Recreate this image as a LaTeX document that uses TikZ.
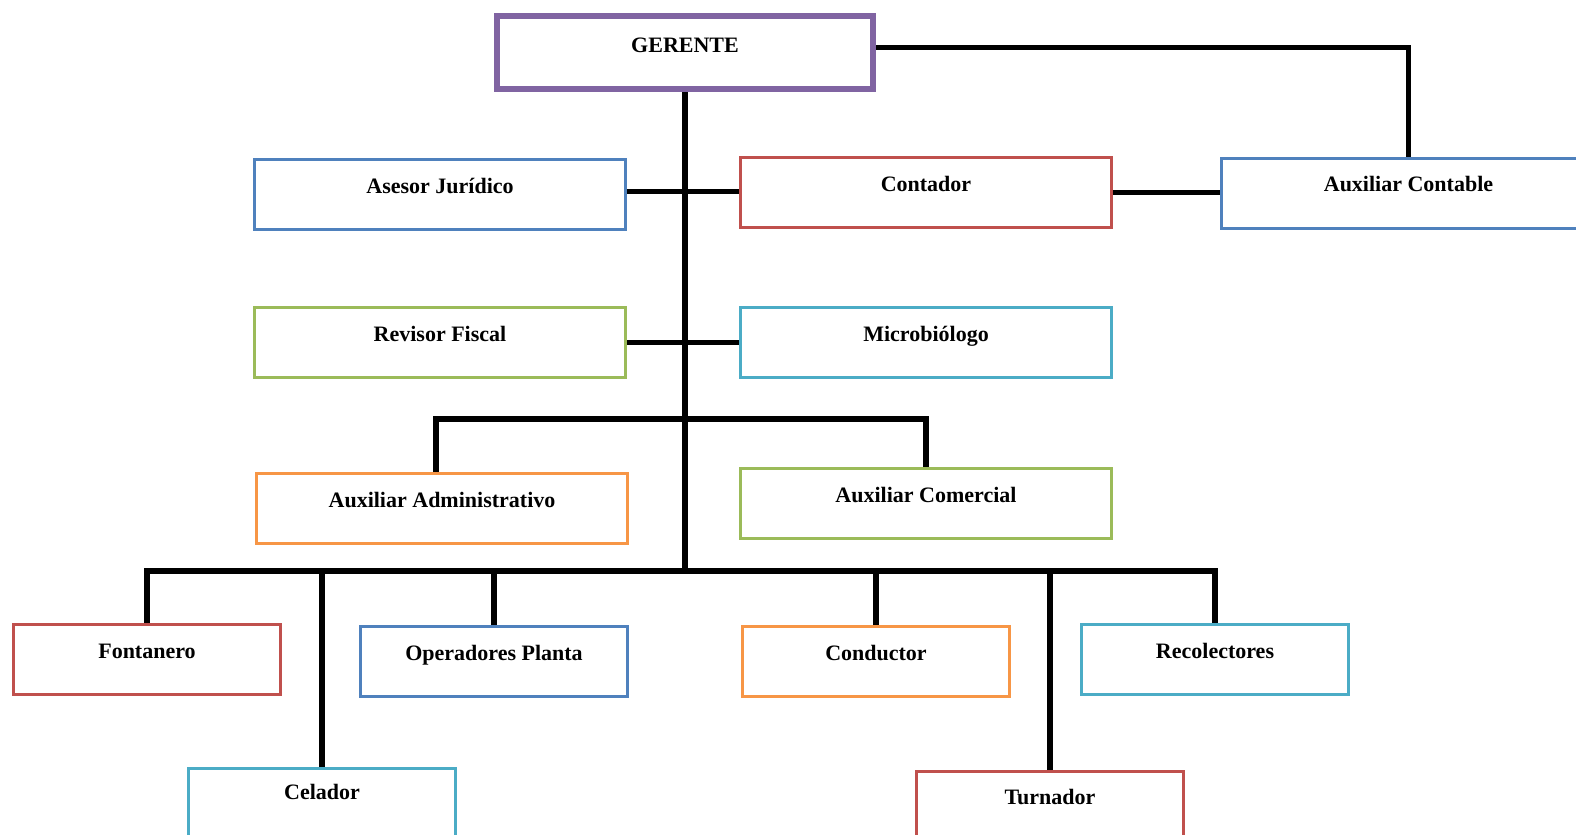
\documentclass[tikz,border=0pt]{standalone}
\usepackage{fontspec}
\setmainfont{Liberation Serif}
\definecolor{cpurple}{HTML}{8064A2}
\definecolor{cblue}{HTML}{4F81BD}
\definecolor{cred}{HTML}{C0504D}
\definecolor{cgreen}{HTML}{9BBB59}
\definecolor{caqua}{HTML}{4BACC6}
\definecolor{corange}{HTML}{F79646}
\tikzset{
  box/.style={draw=#1, line width=1.5pt, inner sep=0pt, anchor=north west,
    text height=17pt, text depth=18pt, font=\bfseries\fontsize{11}{13}\selectfont},
  wide/.style={minimum width=185.5pt},
  narrow/.style={minimum width=133.5pt},
  conn/.style={line width=2.8pt, black}
}
\begin{document}
\begin{tikzpicture}[x=0.5pt,y=-0.5pt]
\useasboundingbox (0,0) rectangle (1576,835);
\clip (0,0) rectangle (1576,835);
\fill[white] (0,0) rectangle (1576,835);
% coordinates of buses
\coordinate (mid) at (682,419);
\coordinate (bot) at (682,571);
% nodes
\node[box=cpurple, line width=3pt, minimum width=188pt, text height=18.5pt, text depth=18pt] (ger) at (494,13) {GERENTE};
\node[box=cblue, wide] (ase) at (253,158) {Asesor Jurídico};
\node[box=cred, wide] (con) at (739,156) {Contador};
\node[box=cblue, minimum width=187pt, text height=16.5pt, text depth=18.5pt] (auc) at (1220,157) {Auxiliar Contable};
\node[box=cgreen, wide] (rev) at (253,306) {Revisor Fiscal};
\node[box=caqua, wide] (mic) at (739,306) {Microbiólogo};
\node[box=corange, wide] (adm) at (255,472) {Auxiliar Administrativo};
\node[box=cgreen, wide] (com) at (739,467) {Auxiliar Comercial};
\node[box=cred, narrow] (fon) at (12,623) {Fontanero};
\node[box=cblue, narrow] (ope) at (359,625) {Operadores Planta};
\node[box=corange, narrow] (cnd) at (741,625) {Conductor};
\node[box=caqua, narrow] (rec) at (1080,623) {Recolectores};
\node[box=caqua, narrow, text height=15.5pt, text depth=19.5pt] (cel) at (187,767) {Celador};
\node[box=cred, narrow, text height=16.5pt, text depth=18.5pt] (tur) at (915,770) {Turnador};
% connectors
\draw[conn] ([yshift=2.5pt]ger.east) -| (auc.north);
\draw[conn] (ger.south) -- (ger.south |- bot);
\draw[conn] ([yshift=1.5pt]ase.east) -- ([yshift=1.5pt]ase.east -| con.west);
\draw[conn] (con.east) -- (con.east -| auc.west);
\draw[conn] (rev.east) -- (rev.east -| mic.west);
\draw[conn] ([xshift=-3pt]adm.north) |- (mid) -| (com.north);
\draw[conn] (fon.north) |- (bot) -| (rec.north);
\draw[conn] (cel.north) -- (cel.north |- bot);
\draw[conn] (ope.north) -- (ope.north |- bot);
\draw[conn] (cnd.north) -- (cnd.north |- bot);
\draw[conn] (tur.north) -- (tur.north |- bot);
\end{tikzpicture}
\end{document}
